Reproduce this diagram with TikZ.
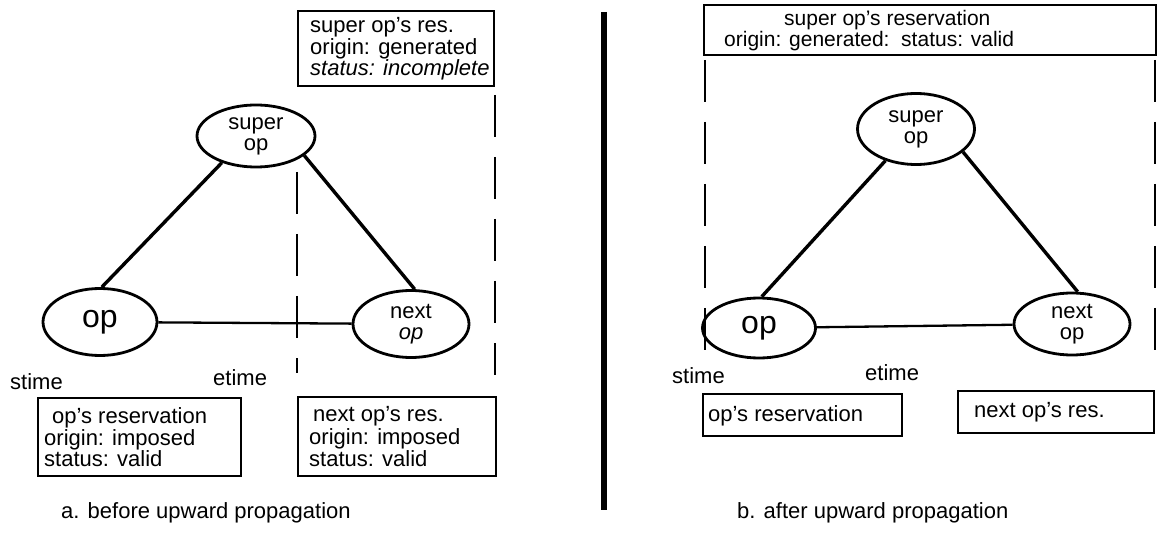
\documentclass[tikz,border=0pt]{standalone}
\usepackage{fontspec}
\setmainfont{Liberation Sans}
\usetikzlibrary{shapes.geometric}
\tikzset{
  opnode/.style={draw, ellipse, line width=2.8pt, inner sep=0pt, align=center, font=\fontsize{22}{21}\selectfont},
  bigop/.style={font=\fontsize{32}{32}\selectfont},
  edge/.style={line width=3.4pt},
  flat/.style={line width=2.3pt},
  resbox/.style={draw, line width=2.4pt, inner sep=0pt, anchor=north west},
  tx/.style={inner sep=0pt, anchor=base west, font=\fontsize{22}{22}\selectfont},
  txs/.style={inner sep=0pt, anchor=base west, font=\fontsize{21}{21}\selectfont},
  bound/.style={line width=1.8pt, dash pattern=on 42pt off 20pt}
}
\begin{document}
\begin{tikzpicture}[x=1pt,y=-1pt]
\useasboundingbox (0,0) rectangle (1158,534);
% ---------- panel a ----------
\node[resbox, minimum width=196pt, minimum height=75pt] (sra) at (297,10) {};
\node[tx] (sra1) at (310,33) {super op's res.};
\node[tx] (sra2) at (310,55) {origin: generated};
\node[tx, font=\fontsize{22}{22}\selectfont\itshape] (sra3) at (310,76) {status: incomplete};
\node[opnode, minimum width=118pt, minimum height=62pt] (supa) at (256,136) {super\\op};
\node[opnode, bigop, minimum width=114pt, minimum height=67pt] (opa) at (100,322) {op};
\node[opnode, minimum width=116pt, minimum height=67pt] (nxa) at (411,324) {next\\\itshape op};
\draw[edge] (supa.218) -- (opa.87);
\draw[edge] (supa.338) -- (nxa.84);
\draw[flat] (opa) -- (nxa);
\coordinate (dla1) at (297,172); \coordinate (dla2) at (297,373);
\coordinate (dra1) at (495,95); \coordinate (dra2) at (495,375);
\draw[bound] (dla1) -- (dla2);
\draw[bound] (dra1) -- (dra2);
\node[tx] (sta) at (10,389) {stime};
\node[tx] (eta) at (213,385) {etime};
\node[resbox, minimum width=203pt, minimum height=78pt] (ora) at (37,397) {};
\node[tx] (ora1) at (52,423) {op's reservation};
\node[tx] (ora2) at (44,445) {origin: imposed};
\node[tx] (ora3) at (44,466) {status: valid};
\node[resbox, minimum width=198pt, minimum height=79pt] (nra) at (297,396) {};
\node[tx] (nra1) at (313,421) {next op's res.};
\node[tx] (nra2) at (309,444) {origin: imposed};
\node[tx] (nra3) at (309,466) {status: valid};
\node[tx] (capa) at (61,518) {a. before upward propagation};
% ---------- divider ----------
\coordinate (bar1) at (604,12); \coordinate (bar2) at (604,510);
\draw[line width=6pt] (bar1) -- (bar2);
% ---------- panel b ----------
\node[resbox, minimum width=452pt, minimum height=50pt] (srb) at (703,4) {};
\node[txs] (srb1) at (784,26) {super op's reservation};
\node[txs] (srb2) at (724,47) {origin: generated:\ \ status: valid};
\node[opnode, minimum width=117pt, minimum height=71pt] (supb) at (916,129) {super\\op};
\node[opnode, bigop, minimum width=113pt, minimum height=60pt] (opb) at (759,328) {op};
\node[opnode, minimum width=116pt, minimum height=62pt] (nxb) at (1072,324) {next\\op};
\draw[edge] (supb.226) -- (opb.85);
\draw[edge] (supb.334) -- (nxb.80);
\draw[flat] (opb) -- (nxb);
\coordinate (dlb1) at (705,60); \coordinate (dlb2) at (705,353);
\coordinate (drb1) at (1155,60); \coordinate (drb2) at (1155,358);
\draw[bound] (dlb1) -- (dlb2);
\draw[bound] (drb1) -- (drb2);
\node[tx] (stb) at (672,383) {stime};
\node[tx] (etb) at (865,380) {etime};
\node[resbox, minimum width=199pt, minimum height=42pt] (orb) at (702,393) {};
\node[tx] (orb1) at (708,421) {op's reservation};
\node[resbox, minimum width=196pt, minimum height=42pt] (nrb) at (957,390) {};
\node[tx] (nrb1) at (974,417) {next op's res.};
\node[tx] (capb) at (737,518) {b. after upward propagation};
\end{tikzpicture}
\end{document}
